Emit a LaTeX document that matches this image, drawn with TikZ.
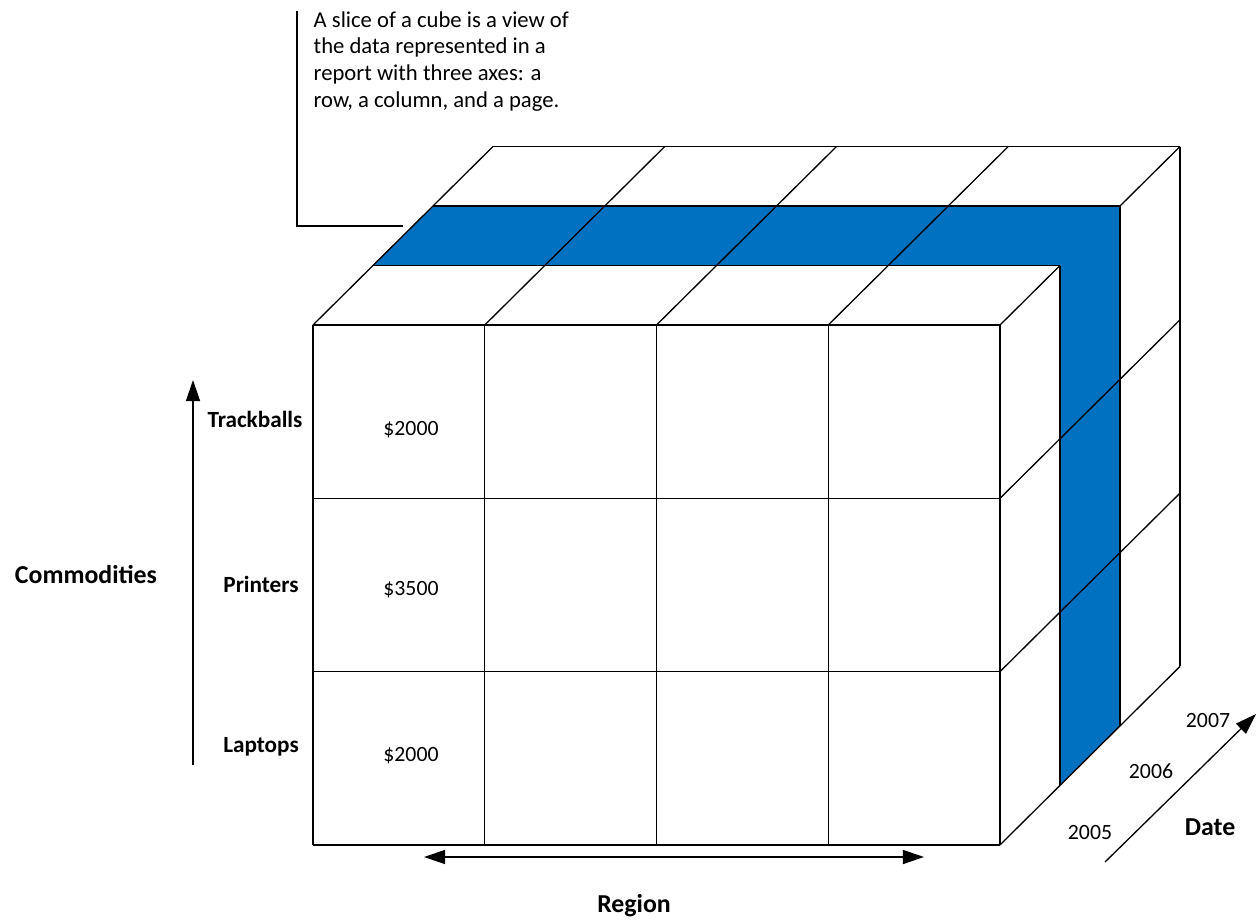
\documentclass[tikz,border=0pt]{standalone}
\usepackage{fontspec}
\setmainfont{Carlito}
\usepackage{xcolor}
\usetikzlibrary{arrows.meta,calc}
\definecolor{sliceblue}{HTML}{0070C0}

\begin{document}
\begin{tikzpicture}[x=0.02cm,y=-0.02cm,line width=0.75pt,
  txt/.style={font=\fontsize{12.4}{15.1}\selectfont},
  notetxt/.style={font=\fontsize{12.9}{15.1}\selectfont},
  rowlabel/.style={font=\fontsize{13.2}{16}\selectfont\bfseries},
  axislabel/.style={font=\fontsize{14.7}{18}\selectfont\bfseries},
  axis/.style={-{Triangle[length=12pt,width=8pt]}},
  biaxis/.style={{Triangle[length=12pt,width=8pt]}-{Triangle[length=12pt,width=8pt]}}]
  \useasboundingbox (0,0) rectangle (1257,923);
  % Define dimensions of the cube
  \def\Left{313}
  \def\Top{325}
  \def\W{171.75}
  \def\H{173.3}
  \def\Dx{60}
  \def\Dy{-59.5}
  % Slice (2006)
  \fill[sliceblue]
    (\Left+\Dx,\Top+\Dy) -- (\Left+4*\W+\Dx,\Top+\Dy)
    -- (\Left+4*\W+\Dx,\Top+3*\H+\Dy) -- (\Left+4*\W+2*\Dx,\Top+3*\H+2*\Dy)
    -- (\Left+4*\W+2*\Dx,\Top+2*\Dy) -- (\Left+2*\Dx,\Top+2*\Dy) -- cycle;
  % Front face
  \foreach \i in {0,...,4}
    \draw (\Left+\i*\W,\Top) -- (\Left+\i*\W,\Top+3*\H);
  \foreach \j in {0,...,3}
    \draw (\Left,\Top+\j*\H) -- (\Left+4*\W,\Top+\j*\H);
  % Top face
  \foreach \k in {1,2,3}
    \draw (\Left+\k*\Dx,\Top+\k*\Dy) -- (\Left+4*\W+\k*\Dx,\Top+\k*\Dy);
  \foreach \i in {0,...,3}
    \draw (\Left+\i*\W,\Top) -- ++(3*\Dx,3*\Dy);
  \draw (\Left+4*\W,\Top) -- ++(\Dx,\Dy) ++(\Dx,\Dy) -- ++(\Dx,\Dy);
  % Right face
  \foreach \k in {1,2,3}
    \draw (\Left+4*\W+\k*\Dx,\Top+\k*\Dy) -- ++(0,3*\H);
  \foreach \j in {1,2,3}
    \draw (\Left+4*\W,\Top+\j*\H) -- ++(3*\Dx,3*\Dy);
  % Cell values
  \node[txt] (trackval) at (411,430) {\$2000};
  \node[txt] (printval) at (411,590) {\$3500};
  \node[txt] (lapval) at (411,756) {\$2000};
  % Commodities
  \node[rowlabel, anchor=base] (trackballs) at (255,427) {Trackballs};
  \node[rowlabel, anchor=base] (printers) at (261,592) {Printers};
  \node[rowlabel, anchor=base] (laptops) at (261,752) {Laptops};
  \node[axislabel, anchor=base] (commodities) at (86,583) {Commodities};
  \coordinate (commlow) at (193,765);
  \coordinate (commhigh) at (193,380);
  \draw[axis] (commlow) -- (commhigh);
  % Region
  \node[axislabel, anchor=base] (region) at (634,912) {Region};
  \coordinate (regleft) at (424,857);
  \coordinate (regright) at (924,857);
  \draw[biaxis] (regleft) -- (regright);
  % Date
  \node[txt] (y2005) at (1090,832) {2005};
  \node[txt] (y2006) at (1151,771) {2006};
  \node[txt] (y2007) at (1208,720) {2007};
  \node[axislabel, anchor=base] (date) at (1210,835) {Date};
  \coordinate (datelow) at (1105,862);
  \coordinate (datehigh) at (1256,714);
  \draw[axis] (datelow) -- (datehigh);
  % Callout
  \node[notetxt, anchor=base west, align=left, inner sep=0pt] (note) at (313,107)
    {A slice of a cube is a view of\\the data represented in a\\report with three axes: a\\row, a column, and a page.};
  \coordinate (noteend) at (403,226);
  \draw (note.north west) ++(-16,0) |- (noteend);
\end{tikzpicture}
\end{document}
